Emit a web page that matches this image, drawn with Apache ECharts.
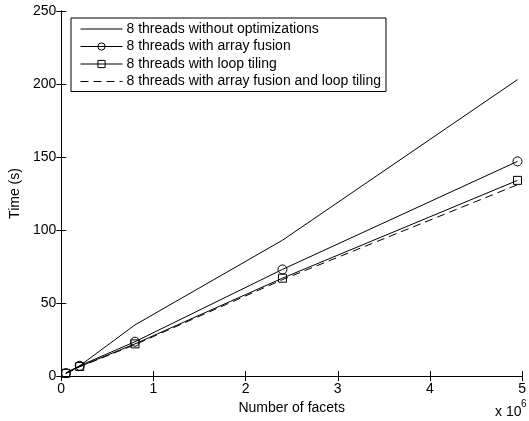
<!DOCTYPE html>
<html>
<head>
<meta charset="utf-8">
<script src="https://cdn.jsdelivr.net/npm/echarts@6/dist/echarts.min.js"></script>
<style>
  html, body { margin: 0; padding: 0; background: #fff; }
  #chart { width: 529px; height: 421px; }
</style>
</head>
<body>
<div id="chart"></div>
<script>
// number of facets (x 10^6)
var facets = [0.05, 0.2, 0.8, 2.4, 4.95];
var seriesNames = [
    '8 threads without optimizations',
    '8 threads with array fusion',
    '8 threads with loop tiling',
    '8 threads with array fusion and loop tiling'
];
// time (s)
var tNoOpt = [2, 7, 35, 93, 203];
var tFusion = [2, 7, 23.5, 73, 147];
var tTiling = [1.8, 6.5, 22, 67, 134];
var tBoth = [1.7, 6.3, 21.5, 66, 131];

function pairs(ys) {
    var out = [];
    ys.forEach(function (y, i) {
        out.push([facets[i], y]);
    });
    return out;
}

var font = 'Liberation Sans, Arial, Helvetica, sans-serif';
var myCharts = echarts.init(document.getElementById('chart'));

var baseLine = {
    type: 'line',
    xAxisIndex: 0,
    yAxisIndex: 0,
    animation: false,
    silent: true,
    color: '#000',
    emphasis: { disabled: true }
};

// legend items: lines without markers get an invisible symbol
var hiddenSymbol = { color: 'rgba(0,0,0,0)', borderColor: 'rgba(0,0,0,0)', borderWidth: 0 };
var openSymbol = { color: 'rgba(255,255,255,0)', borderColor: '#000', borderWidth: 1 };

var option = {
    backgroundColor: '#fff',
    animation: false,
    grid: {
        left: 61,
        right: 6,
        top: 11,
        bottom: 45,
        containLabel: false
    },
    legend: {
        orient: 'vertical',
        left: 71,
        top: 18,
        data: [
            { name: seriesNames[0], itemStyle: hiddenSymbol },
            { name: seriesNames[1], itemStyle: openSymbol },
            { name: seriesNames[2], itemStyle: openSymbol },
            { name: seriesNames[3], itemStyle: hiddenSymbol }
        ],
        backgroundColor: '#fff',
        borderColor: '#000',
        borderWidth: 1,
        borderRadius: 0,
        padding: [4, 5, 3, 9],
        itemWidth: 42,
        itemHeight: 9,
        itemGap: 3.5,
        selectedMode: false,
        lineStyle: { width: 1 },
        textStyle: {
            color: '#000',
            fontSize: 14,
            fontFamily: font,
            padding: [0, 0, 0, -1]
        }
    },
    xAxis: [
        {
            type: 'value',
            min: 0,
            max: 5,
            interval: 1,
            name: 'Number of facets',
            nameLocation: 'middle',
            nameGap: 25,
            nameTextStyle: { color: '#000', fontSize: 14, fontFamily: font },
            axisLine: { show: true, lineStyle: { color: '#000', width: 1 } },
            axisTick: { show: true, inside: true, length: 5, lineStyle: { color: '#000' } },
            axisLabel: { color: '#000', fontSize: 14, fontFamily: font, margin: 6 },
            splitLine: { show: false }
        },
        {
            type: 'value',
            position: 'top',
            min: 0,
            max: 5,
            interval: 1,
            axisLine: { show: true, lineStyle: { color: '#000', width: 1 } },
            axisTick: { show: true, inside: true, length: 5, lineStyle: { color: '#000' } },
            axisLabel: { show: false },
            splitLine: { show: false }
        }
    ],
    yAxis: [
        {
            type: 'value',
            min: 0,
            max: 250,
            interval: 50,
            name: 'Time (s)',
            nameLocation: 'middle',
            nameGap: 36,
            nameTextStyle: { color: '#000', fontSize: 14, fontFamily: font },
            axisLine: { show: true, lineStyle: { color: '#000', width: 1 } },
            axisTick: { show: true, inside: true, length: 5, lineStyle: { color: '#000' } },
            axisLabel: { color: '#000', fontSize: 14, fontFamily: font, margin: 5 },
            splitLine: { show: false }
        },
        {
            type: 'value',
            position: 'right',
            min: 0,
            max: 250,
            interval: 50,
            axisLine: { show: true, lineStyle: { color: '#000', width: 1 } },
            axisTick: { show: true, inside: true, length: 5, lineStyle: { color: '#000' } },
            axisLabel: { show: false },
            splitLine: { show: false }
        }
    ],
    graphic: [
        {
            type: 'text',
            left: 495,
            top: 405,
            style: { text: 'x 10', fill: '#000', font: '14px ' + font }
        },
        {
            type: 'text',
            left: 521,
            top: 399,
            style: { text: '6', fill: '#000', font: '10px ' + font }
        }
    ],
    series: [
        Object.assign({}, baseLine, {
            name: seriesNames[0],
            symbol: 'none',
            lineStyle: { color: '#000', width: 1 },
            data: pairs(tNoOpt)
        }),
        Object.assign({}, baseLine, {
            name: seriesNames[1],
            symbol: 'circle',
            symbolSize: 9,
            itemStyle: openSymbol,
            lineStyle: { color: '#000', width: 1 },
            data: pairs(tFusion)
        }),
        Object.assign({}, baseLine, {
            name: seriesNames[2],
            symbol: 'rect',
            symbolSize: 8,
            itemStyle: openSymbol,
            lineStyle: { color: '#000', width: 1 },
            data: pairs(tTiling)
        }),
        Object.assign({}, baseLine, {
            name: seriesNames[3],
            symbol: 'none',
            lineStyle: { color: '#000', width: 1, type: [8, 5] },
            data: pairs(tBoth)
        })
    ]
};
myCharts.setOption(option);
</script>
</body>
</html>
